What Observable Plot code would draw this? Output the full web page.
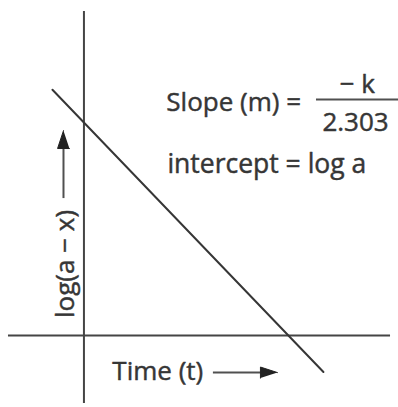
<!DOCTYPE html>
<html><head><meta charset="utf-8">
<script src="https://cdn.jsdelivr.net/npm/d3@7"></script>
<script src="https://cdn.jsdelivr.net/npm/@observablehq/plot@0.6"></script>
<style>html,body{margin:0;padding:0;background:#fff} svg{display:block}</style>
</head><body><div id="chart"></div>
<script>
// Data
const timeValues = [-1.54, 11.71];
const logValues = [11.54, -1.71];
const slopeLabel = "Slope (m) =";
const numeratorLabel = "\u2212 k";
const denominatorLabel = "2.303";
const interceptLabel = "intercept = log a";
const yLabel = "log(a \u2212 x)";
const xLabel = "Time (t)";

const lineData = timeValues.map((t, i) => ({t, v: logValues[i]}));
const ink = "#363636";
const font = "'Open Sans', sans-serif";

const triangles = [
  {id: "y", x: -1.0, y: 9.62}, {id: "y", x: -1.29, y: 8.78}, {id: "y", x: -0.71, y: 8.78},
  {id: "x", x: 9.46, y: -1.74}, {id: "x", x: 8.63, y: -1.48}, {id: "x", x: 8.63, y: -2.0}
];

const textStyle = {lineAnchor: "bottom", fontSize: 26, fill: ink, stroke: ink, strokeWidth: 0.45};

const chart = Plot.plot({
  width: 398,
  height: 407,
  margin: 0,
  x: {domain: [-4.08, 15.38], axis: null},
  y: {domain: [-3.38, 15.73], axis: null},
  style: {fontFamily: font, background: "#fff"},
  marks: [
    Plot.ruleX([0], {y1: -3.19, y2: 15.21, stroke: "#454545", strokeWidth: 2}),
    Plot.ruleY([0], {x1: -3.69, x2: 14.99, stroke: "#454545", strokeWidth: 2}),
    Plot.line(lineData, {x: "t", y: "v", stroke: ink, strokeWidth: 2}),
    // y arrow
    Plot.ruleX([-1.0], {y1: 6.43, y2: 8.9, stroke: "#505050", strokeWidth: 2}),
    // x arrow
    Plot.ruleY([-1.74], {x1: 6.33, x2: 8.7, stroke: "#505050", strokeWidth: 2}),
    Plot.line(triangles, {x: "x", y: "y", z: "id", fill: "#222", stroke: "#222", strokeWidth: 1}),
    // fraction bar
    Plot.ruleY([11.08], {x1: 11.37, x2: 15.38, stroke: "#505050", strokeWidth: 2}),
    Plot.text([slopeLabel], {x: 4.03, y: 10.56, text: d => d, textAnchor: "start", ...textStyle}),
    Plot.text([numeratorLabel], {x: 13.37, y: 11.41, text: d => d, textAnchor: "middle", ...textStyle}),
    Plot.text([denominatorLabel], {x: 13.28, y: 9.62, text: d => d, textAnchor: "middle", ...textStyle}),
    Plot.text([interceptLabel], {x: 4.08, y: 7.61, text: d => d, textAnchor: "start", ...textStyle, fontSize: 26.5}),
    Plot.text([yLabel], {x: -0.51, y: 3.36, text: d => d, rotate: -90, textAnchor: "middle", ...textStyle}),
    Plot.text([xLabel], {x: 1.39, y: -2.07, text: d => d, textAnchor: "start", ...textStyle})
  ]
});
document.getElementById("chart").append(chart);
</script>
</body></html>
